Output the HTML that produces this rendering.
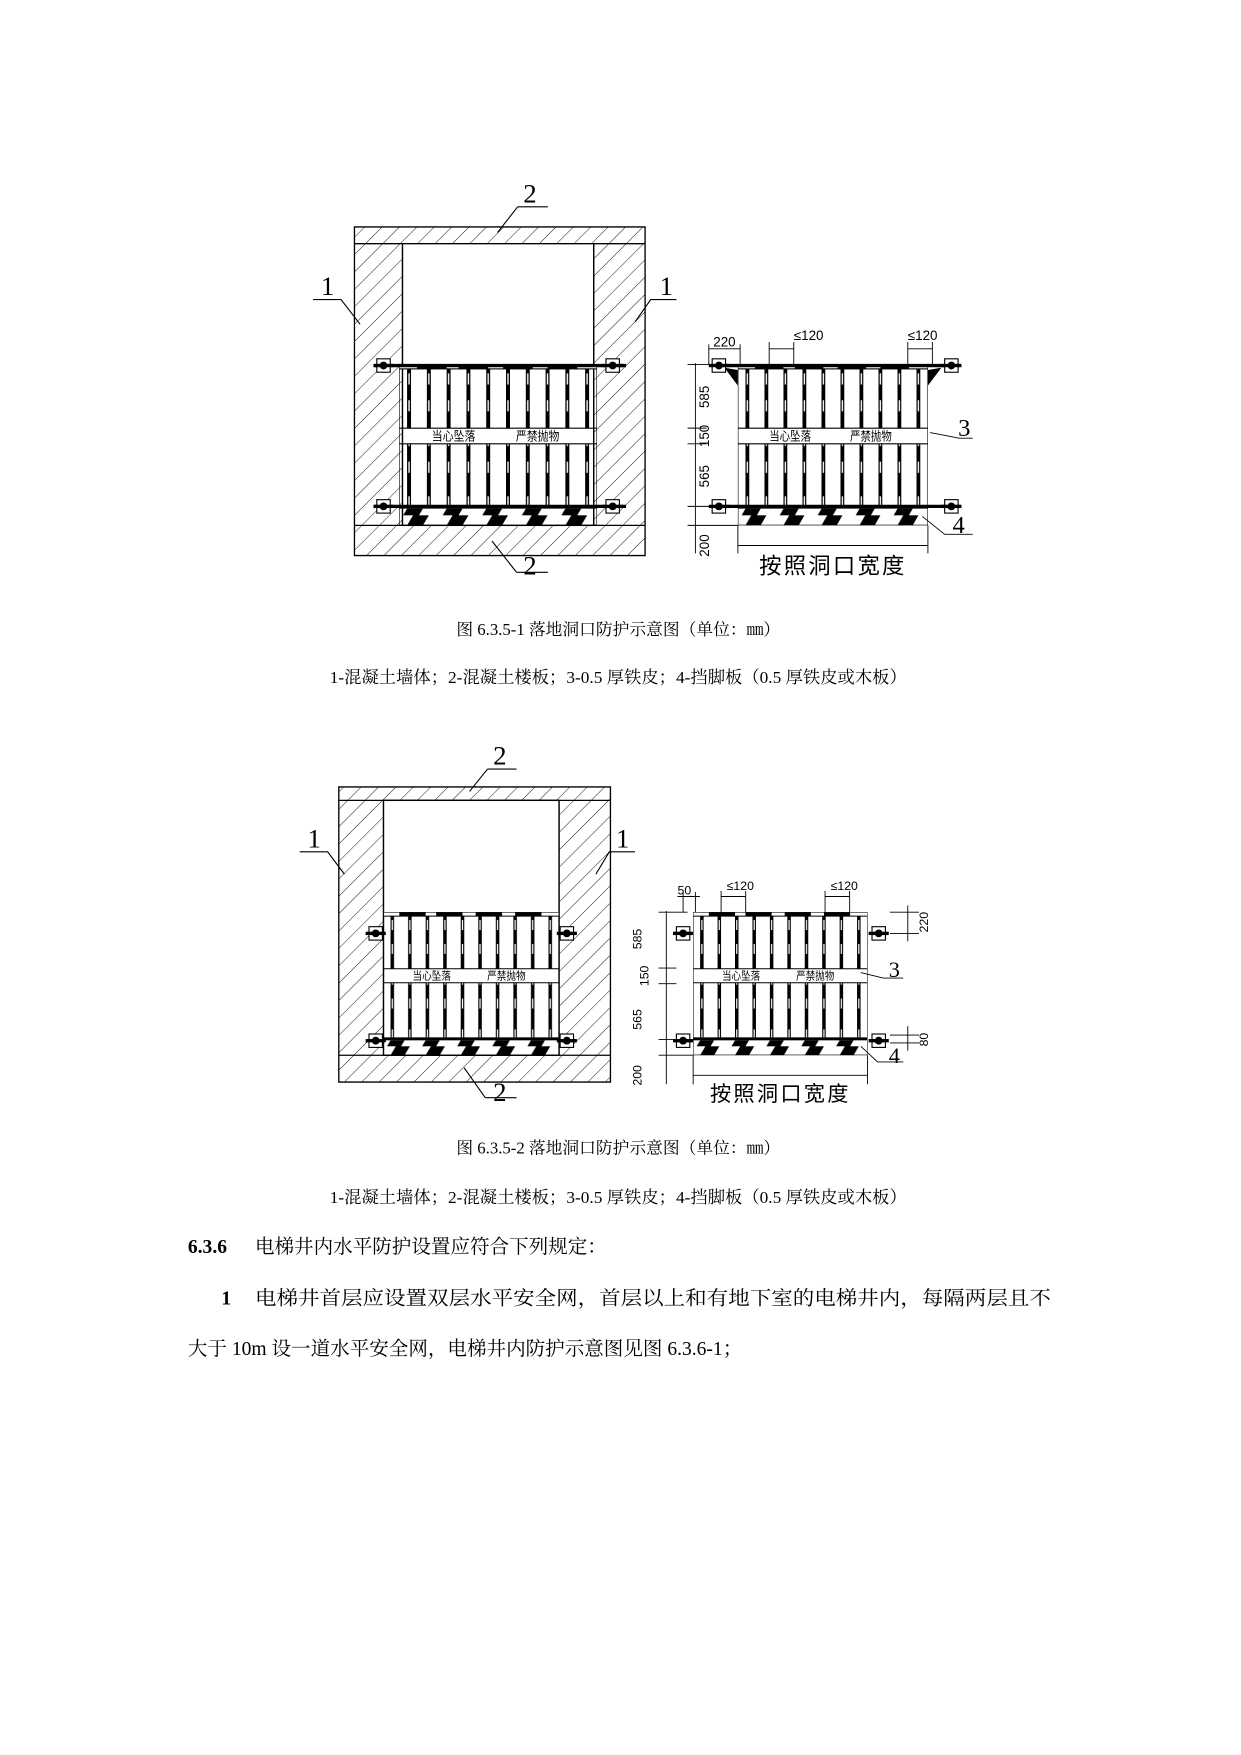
<!DOCTYPE html>
<html><head><meta charset="utf-8"><style>html,body{margin:0;padding:0;background:#fff}svg{display:block}</style></head>
<body>
<svg width="1241" height="1755" viewBox="0 0 1110 1570" xmlns="http://www.w3.org/2000/svg" font-family="'Liberation Serif','Noto Serif CJK SC',serif">
<defs>
<pattern id="hatch" patternUnits="userSpaceOnUse" width="11" height="11" patternTransform="rotate(45)">
<line x1="0" y1="0" x2="0" y2="11" stroke="#000" stroke-width="0.8"/></pattern>
<pattern id="pick" patternUnits="userSpaceOnUse" width="20" height="55">
<rect x="8" y="0" width="4" height="55" fill="#000"/><rect x="9.3" y="8" width="1.4" height="10" fill="#fff"/><rect x="9.3" y="32" width="1.4" height="10" fill="#fff"/></pattern>
<pattern id="toe" patternUnits="userSpaceOnUse" width="40" height="15">
<polygon points="4,15 14,0 30,0 20,15" fill="#000"/></pattern>
<symbol id="rail" viewBox="0 0 200 144" preserveAspectRatio="none">
<rect x="0" y="4" width="200" height="53" fill="url(#pick)"/>
<rect x="0" y="71" width="200" height="55" fill="url(#pick)"/>
<rect x="0" y="0" width="200" height="144" fill="none" stroke="#000" stroke-width="1.2"/>
<rect x="0" y="0" width="200" height="4" fill="#fff" stroke="#000" stroke-width="1"/>
<rect x="18" y="0" width="30" height="4" fill="#000"/><rect x="60" y="0" width="30" height="4" fill="#000"/><rect x="105" y="0" width="30" height="4" fill="#000"/><rect x="150" y="0" width="30" height="4" fill="#000"/>
<line x1="0" y1="57" x2="200" y2="57" stroke="#000"/><line x1="0" y1="71" x2="200" y2="71" stroke="#000"/>
<text x="55" y="68" font-size="11" text-anchor="middle" font-family="'Noto Sans CJK SC',sans-serif">当心坠落</text>
<text x="140" y="68" font-size="11" text-anchor="middle" font-family="'Noto Sans CJK SC',sans-serif">严禁抛物</text>
<rect x="0" y="126" width="200" height="3" fill="#000"/>
<rect x="0" y="129" width="200" height="15" fill="url(#toe)"/>
</symbol>
<g id="bolt"><rect x="-6" y="-6" width="12" height="12" fill="#fff" stroke="#000"/><circle cx="0" cy="0" r="3.5" fill="#000"/><rect x="-9" y="-1.5" width="18" height="3" fill="#000"/></g>
</defs>

<!-- FIGURE 1 -->
<g stroke="#000" stroke-width="1.2">
<path d="M317,203 H577 V497 H317 Z M360,218 V470 H531 V218 Z" fill="url(#hatch)" fill-rule="evenodd"/>
<line x1="317" y1="218" x2="577" y2="218"/><line x1="317" y1="470" x2="577" y2="470"/>
<rect x="360" y="218" width="171" height="252" fill="#fff"/>
</g>
<use href="#rail" x="357" y="326" width="177" height="144"/>
<line x1="335" y1="327" x2="560" y2="327" stroke="#000" stroke-width="3"/>
<line x1="335" y1="453" x2="560" y2="453" stroke="#000" stroke-width="3"/>
<use href="#bolt" x="343" y="327"/><use href="#bolt" x="548" y="327"/><use href="#bolt" x="343" y="453"/><use href="#bolt" x="548" y="453"/>
<g font-size="24" text-anchor="middle"><text x="474" y="181">2</text><text x="293" y="264">1</text><text x="596" y="264">1</text><text x="474" y="514">2</text></g>
<g stroke="#000" fill="none"><path d="M463,185 H490 M463,185 L445,208"/><path d="M280,268 H305 L322,290"/><path d="M605,268 H582 L568,288"/><path d="M462,512 H490 M462,512 L440,484"/></g>

<!-- right detail 1 -->
<use href="#rail" x="660" y="326" width="170" height="144"/>
<g stroke="#000" stroke-width="3"><line x1="638" y1="327" x2="858" y2="327"/><line x1="638" y1="453" x2="858" y2="453"/></g>
<path d="M648,329 L660,345 V331 Z M842,329 L830,345 V331 Z" fill="#000"/>
<use href="#bolt" x="643" y="327"/><use href="#bolt" x="851" y="327"/><use href="#bolt" x="643" y="453"/><use href="#bolt" x="851" y="453"/>
<g stroke="#000" stroke-width="0.8" fill="none">
<line x1="622" y1="325" x2="622" y2="495"/>
<path d="M615,326 H650 M615,383 H632 M615,397 H632 M615,453 H640 M615,470 H660 M615,470 H632"/>
<line x1="660" y1="470" x2="660" y2="495"/><line x1="830" y1="470" x2="830" y2="495"/><line x1="660" y1="488" x2="830" y2="488"/>
<line x1="634" y1="312" x2="662" y2="312"/><line x1="634" y1="308" x2="634" y2="326"/><line x1="662" y1="308" x2="662" y2="326"/>
<line x1="688" y1="312" x2="710" y2="312"/><line x1="688" y1="306" x2="688" y2="326"/><line x1="710" y1="306" x2="710" y2="326"/>
<line x1="812" y1="312" x2="834" y2="312"/><line x1="812" y1="306" x2="812" y2="326"/><line x1="834" y1="306" x2="834" y2="326"/>
<path d="M832,387 L858,392 H870"/><path d="M825,462 L845,478 H870"/>
</g>
<g font-family="'Liberation Sans','Noto Sans CJK SC',sans-serif" font-size="12">
<text x="648" y="310" text-anchor="middle">220</text><text x="710" y="304">≤120</text><text x="812" y="304">≤120</text>
<text transform="translate(634,355) rotate(-90)" text-anchor="middle">585</text>
<text transform="translate(634,390) rotate(-90)" text-anchor="middle">150</text>
<text transform="translate(634,426) rotate(-90)" text-anchor="middle">565</text>
<text transform="translate(634,488) rotate(-90)" text-anchor="middle">200</text>
</g>
<text x="857" y="390" font-size="22">3</text><text x="852" y="477" font-size="22">4</text>
<text x="745" y="513" font-size="20" text-anchor="middle" font-family="'Noto Sans CJK SC',sans-serif" letter-spacing="2">按照洞口宽度</text>

<g font-size="15" text-anchor="middle"><text x="553" y="568">图 6.3.5-1  落地洞口防护示意图（单位：㎜）</text>
<text x="553" y="611" font-size="15.5">1-混凝土墙体；2-混凝土楼板；3-0.5 厚铁皮；4-挡脚板（0.5 厚铁皮或木板）</text></g>

<!-- FIGURE 2 -->
<g stroke="#000" stroke-width="1.2">
<path d="M303,704 H546 V968 H303 Z M343,716 V944 H500 V716 Z" fill="url(#hatch)" fill-rule="evenodd"/>
<line x1="303" y1="716" x2="546" y2="716"/><line x1="303" y1="944" x2="546" y2="944"/>
<rect x="343" y="716" width="157" height="228" fill="#fff"/>
</g>
<use href="#rail" x="343" y="816" width="157" height="128"/>
<use href="#bolt" x="336" y="835"/><use href="#bolt" x="507" y="835"/><use href="#bolt" x="336" y="931"/><use href="#bolt" x="507" y="931"/>
<g font-size="24" text-anchor="middle"><text x="447" y="684">2</text><text x="281" y="758">1</text><text x="557" y="758">1</text><text x="447" y="985">2</text></g>
<g stroke="#000" fill="none"><path d="M436,688 H462 M436,688 L420,708"/><path d="M268,762 H293 L308,782"/><path d="M568,762 H545 L533,782"/><path d="M434,982 H462 M434,982 L415,955"/></g>

<use href="#rail" x="620" y="816" width="156" height="128"/>
<use href="#bolt" x="611" y="835"/><use href="#bolt" x="786" y="835"/><use href="#bolt" x="611" y="931"/><use href="#bolt" x="786" y="931"/>
<g stroke="#000" stroke-width="0.8" fill="none">
<line x1="596" y1="815" x2="596" y2="970"/>
<path d="M589,816 H615 M589,866 H605 M589,880 H605 M589,930 H612 M589,944 H620"/>
<line x1="620" y1="944" x2="620" y2="970"/><line x1="776" y1="944" x2="776" y2="970"/><line x1="620" y1="962" x2="776" y2="962"/>
<line x1="606" y1="802" x2="626" y2="802"/><line x1="611" y1="798" x2="611" y2="816"/><line x1="622" y1="798" x2="622" y2="816"/>
<line x1="645" y1="802" x2="667" y2="802"/><line x1="645" y1="797" x2="645" y2="816"/><line x1="667" y1="797" x2="667" y2="816"/>
<line x1="738" y1="802" x2="760" y2="802"/><line x1="738" y1="797" x2="738" y2="816"/><line x1="760" y1="797" x2="760" y2="816"/>
<path d="M796,816 H822 M796,835 H822 M812,810 V842"/>
<path d="M796,926 H822 M796,933 H822 M812,918 V940"/>
<path d="M770,870 L790,875 H808"/><path d="M770,936 L785,950 H808"/>
</g>
<g font-family="'Liberation Sans','Noto Sans CJK SC',sans-serif" font-size="11">
<text x="606" y="800">50</text><text x="650" y="796">≤120</text><text x="743" y="796">≤120</text>
<text transform="translate(574,840) rotate(-90)" text-anchor="middle">585</text>
<text transform="translate(580,873) rotate(-90)" text-anchor="middle">150</text>
<text transform="translate(574,912) rotate(-90)" text-anchor="middle">565</text>
<text transform="translate(574,962) rotate(-90)" text-anchor="middle">200</text>
<text transform="translate(830,825) rotate(-90)" text-anchor="middle">220</text>
<text transform="translate(830,930) rotate(-90)" text-anchor="middle">80</text>
</g>
<text x="795" y="874" font-size="20">3</text><text x="795" y="951" font-size="20">4</text>
<text x="698" y="985" font-size="19" text-anchor="middle" font-family="'Noto Sans CJK SC',sans-serif" letter-spacing="2">按照洞口宽度</text>

<g font-size="15" text-anchor="middle"><text x="553" y="1032">图 6.3.5-2  落地洞口防护示意图（单位：㎜）</text>
<text x="553" y="1076" font-size="15.5">1-混凝土墙体；2-混凝土楼板；3-0.5 厚铁皮；4-挡脚板（0.5 厚铁皮或木板）</text></g>

<g font-size="17.5">
<text x="168" y="1121"><tspan font-weight="bold">6.3.6</tspan><tspan x="228">电梯井内水平防护设置应符合下列规定：</tspan></text>
<text x="198" y="1167"><tspan font-weight="bold">1</tspan><tspan x="228" textLength="712" lengthAdjust="spacingAndGlyphs">电梯井首层应设置双层水平安全网，首层以上和有地下室的电梯井内，每隔两层且不</tspan></text>
<text x="168" y="1212">大于 10m 设一道水平安全网，电梯井内防护示意图见图 6.3.6-1；</text>
</g>
</svg>
</body></html>
